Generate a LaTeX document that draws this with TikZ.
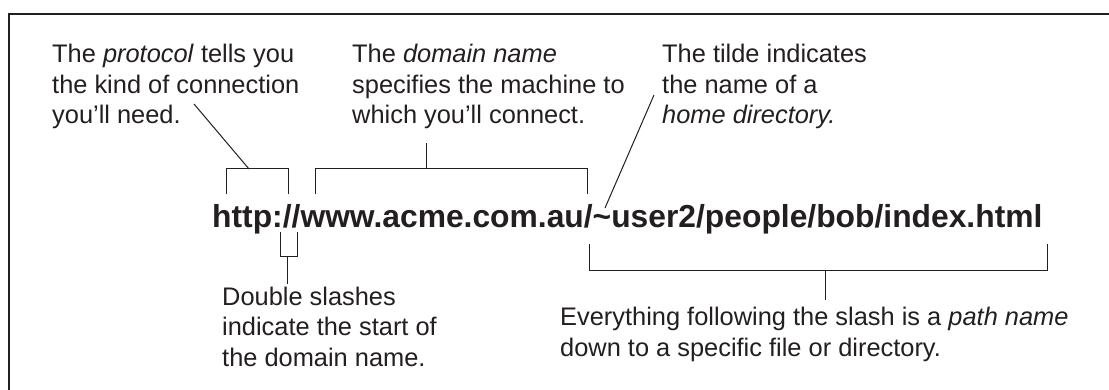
\documentclass[tikz,border=0pt]{standalone}
\usepackage{fontspec}
\setmainfont{Liberation Sans}
\definecolor{ink}{HTML}{231F20}
\begin{document}
\begin{tikzpicture}[x=1pt,y=-1pt,
  lbl/.style={inner sep=0pt, anchor=base west, align=left, font=\fontsize{25.4}{30.5}\selectfont, text=ink},
  urltext/.style={inner sep=0pt, anchor=base west, font=\fontsize{31.8}{38}\selectfont\bfseries, text=ink},
  lead/.style={draw=ink, line width=1pt},
  frame/.style={draw=ink, line width=1.3pt}]
\clip (0,0) rectangle (1109,390);
\fill[white] (0,0) rectangle (1109,390);
\draw[frame] (9,14) rectangle (1130,410);

\node[urltext] (url) at (212,228) {http://www.acme.com.au/\textasciitilde user2/people/bob/index.html};

% base anchor = baseline of last line
\node[lbl] (proto) at (52,124) {The \textit{protocol} tells you\\the kind of connection\\you’ll need.};
\node[lbl] (domain) at (352,124) {The \textit{domain name}\\specifies the machine to\\which you’ll connect.};
\node[lbl] (tilde) at (662,124) {The tilde indicates\\the name of a\\\textit{home directory.}};
\node[lbl] (slash) at (222,366) {Double slashes\\indicate the start of\\the domain name.};
\node[lbl] (path) at (560,356) {Everything following the slash is a \textit{path name}\\down to a specific file or directory.};

% protocol bracket
\coordinate (pA) at (226,194); \coordinate (pB) at (226,169);
\coordinate (pC) at (288,169); \coordinate (pD) at (288,194);
\coordinate (pS) at (249,169); \coordinate (pE) at (194,104);
\draw[lead] (pA) -- (pB) -- (pC) -- (pD);
\draw[lead] (pS) -- (pE);
% domain bracket
\coordinate (dA) at (315,194); \coordinate (dB) at (315,169);
\coordinate (dC) at (587,169); \coordinate (dD) at (587,194);
\coordinate (dS) at (426,169); \coordinate (dE) at (426,143);
\draw[lead] (dA) -- (dB) -- (dC) -- (dD);
\draw[lead] (dS) -- (dE);
% tilde pointer
\coordinate (tS) at (605,208); \coordinate (tE) at (654,95);
\draw[lead] (tS) -- (tE);
% double slash bracket
\coordinate (sA) at (280,232); \coordinate (sB) at (280,257);
\coordinate (sC) at (297,257); \coordinate (sD) at (297,232);
\coordinate (sS) at (287,257); \coordinate (sE) at (287,284);
\draw[lead] (sA) -- (sB) -- (sC) -- (sD);
\draw[lead] (sS) -- (sE);
% path bracket
\coordinate (hA) at (589,244); \coordinate (hB) at (589,271);
\coordinate (hC) at (1047,271); \coordinate (hD) at (1047,244);
\coordinate (hS) at (825,271); \coordinate (hE) at (825,300);
\draw[lead] (hA) -- (hB) -- (hC) -- (hD);
\draw[lead] (hS) -- (hE);
\end{tikzpicture}
\end{document}
